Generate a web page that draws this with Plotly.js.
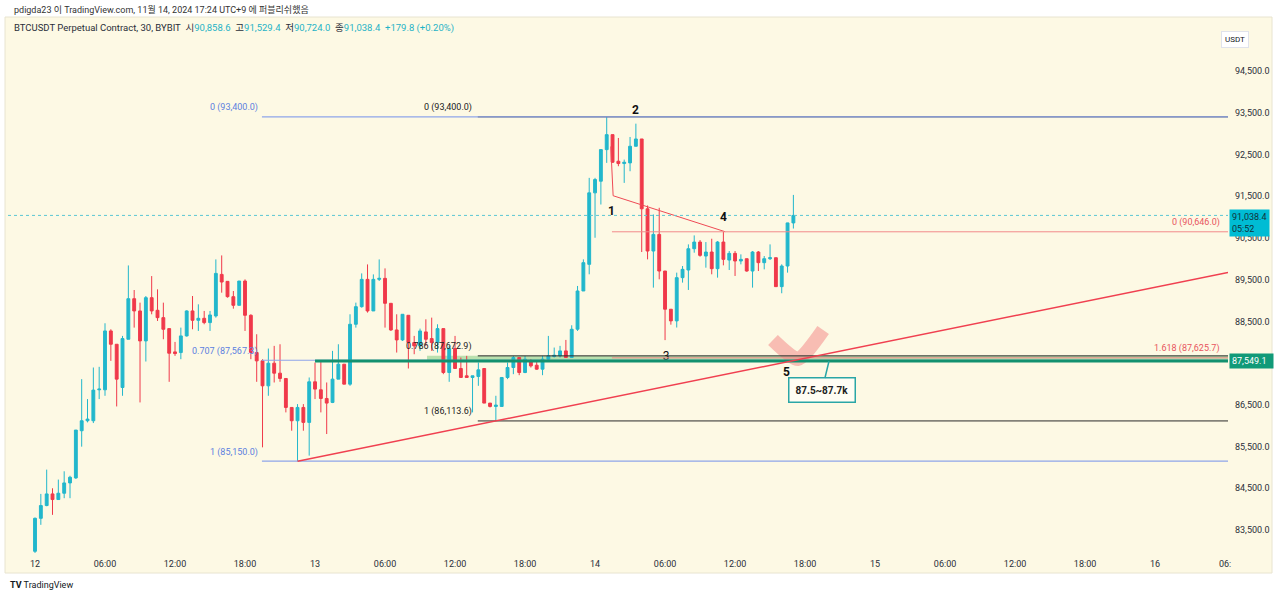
<!DOCTYPE html>
<html><head><meta charset="utf-8">
<script src="https://cdn.plot.ly/plotly-3.0.1.min.js"></script>
<style>html,body{margin:0;padding:0;background:#fff;} #chart{width:1280px;height:597px;}</style>
</head><body><div id="chart"></div>
<script>
// ---- candle data: BTCUSDT 30m, BYBIT, from 2024-11-12 00:00 (UTC+9) ----
const startTime = [2024, 10, 12, 0, 0];   // year, month(0-based), day, hour, minute
const barMinutes = 30;
const openP = [82990,83780,84086,84365,84230,84381,84628,84748,85879,86118,
  86118,86860,86860,88270,87951,86915,88071,89043,88749,88031,
  89067,88765,88589,88326,87768,87752,88151,88749,88525,88573,
  88470,88629,89625,89458,89091,88884,89466,88645,87752,87553,
  86955,87497,87258,87131,86437,86118,86437,86079,87051,86860,
  86652,86557,87115,87473,86995,88430,88852,89506,88749,89506,
  89530,88932,88294,88055,88645,87991,87912,88247,88087,87991,
  88326,87274,87848,87370,87195,87155,87179,87370,86541,86461,
  86461,87155,87394,87633,87274,87529,87449,87354,87593,87657,
  87673,87792,87633,88312,89228,89866,91579,91858,92615,92974,
  92337,92281,92297,92695,92870,91197,90185,90583,89706,88790,
  88511,89547,89730,90240,90400,90065,90161,89762,90400,89969,
  90129,89946,90001,89706,90161,89906,90001,90025,89332,89826,
  90858.6];
const highP = [83800,84365,84947,84500,84708,84907,84800,85895,87115,86637,
  87394,87410,88454,88310,87951,88151,89840,89251,88948,89107,
  89585,89267,88948,88326,88007,88350,88765,89107,88908,88749,
  88749,89984,90080,89458,89227,89466,89506,88669,88191,87593,
  87848,87912,87951,87131,86437,86517,86517,87155,87513,87553,
  87035,87792,87951,87473,88669,88948,89649,89864,89625,89984,
  89769,88932,88669,88669,88645,88151,88326,88549,88589,88430,
  88326,87912,88151,87633,87673,87195,87513,87370,86541,86716,
  87155,87513,87673,87633,87673,87593,87553,87673,88151,87872,
  87912,88055,88406,89348,89985,91938,91938,92615,93400,92974,
  92894,92376,92918,93237,92870,91277,91061,91221,89706,88790,
  89667,89826,90344,90559,90448,90400,90480,90424,90646,90185,
  90185,90105,90001,90185,90185,90065,90344,90025,89866,90862,
  91529.4];
const lowP = [82950,83624,84070,83863,84230,84262,84262,84724,85497,86079,
  86063,86637,86716,87553,86461,86716,88071,88350,86557,87537,
  88669,88509,88071,87051,87673,87593,88135,88310,88270,88430,
  88270,88589,89187,89067,88804,88884,88270,87593,87051,85481,
  86716,87035,87051,86318,85879,85150,85879,85282,86637,86318,
  85800,86541,87115,86995,86955,88350,88828,88709,88749,89466,
  88350,88270,87752,88031,87370,87712,87792,87912,87792,87752,
  87234,87051,87370,87155,87155,86318,86955,86541,86437,86114,
  86461,87115,87234,87210,87258,87394,87338,87210,87553,87633,
  87633,87633,87633,88270,89228,89627,90503,91300,92297,92297,
  92217,91818,92097,92695,90161,89985,89308,89507,88050,88420,
  88352,89428,89252,90145,90049,89786,89627,89547,89842,89730,
  89587,89866,89690,89308,89706,89746,89970,89332,89173,89667,
  90724.0];
const closeP = [83780,84086,84365,84230,84381,84628,84764,85895,86118,86158,
  86852,86876,88270,87951,87115,88087,89043,88749,88031,89067,
  88749,88589,88310,87736,87728,88151,88749,88525,88573,88470,
  88653,89649,89442,89091,88884,89466,88645,87752,87553,86955,
  87497,87258,87131,86437,86118,86437,86079,87051,86876,86652,
  86541,87115,87473,86995,88430,88852,89506,88749,89506,89530,
  88932,88294,88055,88669,87991,87912,88270,88071,87991,88326,
  87274,87848,87370,87155,87155,87195,87338,86541,86461,86493,
  87155,87394,87633,87274,87593,87433,87354,87593,87673,87689,
  87792,87633,88310,89228,89906,91579,91898,92615,92974,92313,
  92281,92313,92695,92870,91197,90185,90583,89706,88790,88511,
  89547,89746,90240,90400,90081,90161,89762,90400,89985,90129,
  89946,89985,89706,90161,89906,90001,90025,89332,89826,90858.6,
  91038.4];

// ---- axis labels (87,500.0 is hidden behind the 87,549.1 price tag) ----
const xTickLabels = ['12','06:00','12:00','18:00','13','06:00','12:00','18:00','14',
  '06:00','12:00','18:00','15','06:00','12:00','18:00','16','06:'];
const yTickValues = [83500,84500,85500,86500,88500,89500,90500,91500,92500,93500,94500];

// ---- drawings (price levels / anchor bars) ----
const blueFibLevels = [93400, 87567.3, 85150];
const blueFibLabels = ['0 (93,400.0)', '0.707 (87,567.3)', '1 (85,150.0)'];
const blueFibStartBar = 38.9;
const blackFibLevels = [93400, 87672.9, 86113.6];
const blackFibLabels = ['0 (93,400.0)', '0.786 (87,672.9)', '1 (86,113.6)'];
const blackFibStartBar = 75.9;
const redFibLevels = [90646.0, 87625.7];
const redFibLabels = ['0 (90,646.0)', '1.618 (87,625.7)'];
const redFibStartBar = 98.9;
const supportLevel = 87549.1;
const supportStartBar = 48;
const zoneBand = [87549.1, 87672.9];
const zoneStartBar = 67.2;
const trendBars = [45, 79];
const trendPrices = [85150, 86113.6];
const waveBars = [98.7, 99.1, 118.3];
const wavePrices = [92690, 91510, 90648];
const waveLabels = ['1', '2', '3', '4', '5'];
const waveLabelBars = [98.9, 103.0, 108.2, 118.1, 128.9];
const waveLabelPrices = [91144, 93565, 87644, 91000, 87284];
const checkBars = [126.5, 130.8, 135.1];
const checkPrices = [88052, 87596, 88291];
const calloutBar = 136.1;
const calloutPrice = 87544;
const calloutText = '87.5~87.7k';
const lastPrice = 91038.4;
const countdown = '05:52';
const viewBars = [-4.63, 204.5];
const viewPrices = [82901, 95769];

const UP = '#22b7cc', DOWN = '#f0394a', CREAM = '#fdf9e4';
const FONT = 'Roboto, "Noto Sans CJK KR", sans-serif';

function tAt(idx) {
  const ms = Date.UTC(startTime[0], startTime[1], startTime[2], startTime[3], startTime[4]) + idx * barMinutes * 60000;
  return new Date(ms).toISOString().slice(0, 19).replace('T', ' ');
}
const times = openP.map((_, i) => tAt(i));
const xRight = tAt(viewBars[1]);
const fmt = v => v.toLocaleString('en-US', {minimumFractionDigits: 1, maximumFractionDigits: 1});

// pixel helpers for paper-placed page furniture
const L = 8, R = 52, T = 18, B = 42, W = 1280, H = 597;
const px = x => (x - L) / (W - L - R);
const py = y => (H - B - y) / (H - T - B);

const traces = [];
traces.push({
  type: 'candlestick', x: times, open: openP, high: highP, low: lowP, close: closeP,
  increasing: {line: {color: UP, width: 1}, fillcolor: UP},
  decreasing: {line: {color: DOWN, width: 1}, fillcolor: DOWN},
  whiskerwidth: 0, hoverinfo: 'skip', showlegend: false
});
traces.push({
  type: 'scatter', mode: 'lines', x: waveBars.map(tAt), y: wavePrices,
  line: {color: '#ef4a55', width: 1}, hoverinfo: 'skip', showlegend: false
});
traces.push({
  type: 'scatter', mode: 'text', x: [tAt(waveLabelBars[2])], y: [waveLabelPrices[2]],
  text: [waveLabels[2]], textfont: {family: FONT, size: 12, color: '#111'},
  hoverinfo: 'skip', showlegend: false
});
traces.push({
  type: 'scatter', mode: 'lines', x: checkBars.map(tAt), y: checkPrices,
  line: {color: 'rgba(243,130,130,0.5)', width: 14, shape: 'spline', smoothing: 0.6}, hoverinfo: 'skip', showlegend: false
});

const shapes = [];
// panel background
shapes.push({type: 'rect', xref: 'paper', yref: 'paper', x0: px(5), x1: px(1272), y0: py(573), y1: py(17),
  fillcolor: CREAM, line: {color: '#e8e4d0', width: 1}, layer: 'below'});
// zone band
shapes.push({type: 'rect', xref: 'x', yref: 'y', x0: tAt(zoneStartBar), x1: xRight, y0: zoneBand[0], y1: zoneBand[1],
  fillcolor: 'rgba(120,200,120,0.5)', line: {width: 0}, layer: 'below'});
// black fib
blackFibLevels.forEach(v => shapes.push({type: 'line', xref: 'x', yref: 'y', x0: tAt(blackFibStartBar), x1: xRight, y0: v, y1: v,
  line: {color: '#2a2a2a', width: 1}, layer: 'above'}));
// blue fib (drawn over the black one)
blueFibLevels.forEach(v => shapes.push({type: 'line', xref: 'x', yref: 'y', x0: tAt(blueFibStartBar), x1: xRight, y0: v, y1: v,
  line: {color: '#8ea5ea', width: 1.2}, layer: 'above'}));
// red fib extension
redFibLevels.forEach(v => shapes.push({type: 'line', xref: 'x', yref: 'y', x0: tAt(redFibStartBar), x1: xRight, y0: v, y1: v,
  line: {color: '#f28a8a', width: 1}, layer: 'above'}));
// support line
shapes.push({type: 'line', xref: 'x', yref: 'y', x0: tAt(supportStartBar), x1: xRight, y0: supportLevel, y1: supportLevel,
  line: {color: '#13916f', width: 3}, layer: 'above'});
// trend line
const slope = (trendPrices[1] - trendPrices[0]) / (trendBars[1] - trendBars[0]);
shapes.push({type: 'line', xref: 'x', yref: 'y', x0: tAt(trendBars[0]), y0: trendPrices[0],
  x1: xRight, y1: trendPrices[0] + slope * (viewBars[1] - trendBars[0]),
  line: {color: '#f04050', width: 1.5}, layer: 'above'});
// last price dotted
shapes.push({type: 'line', xref: 'paper', yref: 'y', x0: 0, x1: 1, y0: lastPrice, y1: lastPrice,
  line: {color: '#5cc6d4', width: 1, dash: 'dot'}, layer: 'above'});

const ann = [];
const lblFont = (c) => ({family: FONT, size: 9, color: c});
blueFibLevels.forEach((v, i) => ann.push({xref: 'x', yref: 'y', x: tAt(blueFibStartBar - 0.4), y: v, text: blueFibLabels[i],
  xanchor: 'right', yanchor: 'middle', yshift: 9, showarrow: false, font: lblFont('#5c7fe0')}));
blackFibLevels.forEach((v, i) => ann.push({xref: 'x', yref: 'y', x: tAt(blackFibStartBar - 0.6), y: v, text: blackFibLabels[i],
  xanchor: 'right', yanchor: 'middle', yshift: 9, showarrow: false, font: lblFont('#222')}));
redFibLevels.forEach((v, i) => ann.push({xref: 'paper', yref: 'y', x: px(1222), y: v, text: redFibLabels[i],
  xanchor: 'right', yanchor: 'middle', yshift: 9, showarrow: false, font: lblFont('#e8555e')}));
[0, 1, 3, 4].forEach(i => ann.push({xref: 'x', yref: 'y', x: tAt(waveLabelBars[i]), y: waveLabelPrices[i], text: '<b>' + waveLabels[i] + '</b>',
  showarrow: false, font: {family: FONT, size: 12, color: '#111'}}));
// callout
ann.push({xref: 'x', yref: 'y', x: tAt(calloutBar), y: calloutPrice, text: '<b>' + calloutText + '</b>',
  showarrow: true, arrowhead: 0, arrowwidth: 1.5, arrowcolor: '#2aa6a6', ax: -7, ay: 29,
  bgcolor: '#fffdf3', bordercolor: '#2aa6a6', borderwidth: 1.5, borderpad: 6,
  font: {family: FONT, size: 10, color: '#222'}});
// price axis labels
ann.push({xref: 'paper', yref: 'y', x: px(1229), y: lastPrice, xanchor: 'left', yanchor: 'top', yshift: 6,
  text: fmt(lastPrice) + '<br>' + countdown, align: 'left', showarrow: false, bgcolor: '#00bcd4',
  borderpad: 2, font: {family: FONT, size: 9, color: '#10323a'}});
ann.push({xref: 'paper', yref: 'y', x: px(1229), y: supportLevel, xanchor: 'left', yanchor: 'middle',
  text: fmt(supportLevel) + '\u00a0\u00a0', align: 'left', showarrow: false, bgcolor: '#119a78',
  borderpad: 2, font: {family: FONT, size: 9, color: '#ffffff'}});
ann.push({xref: 'paper', yref: 'paper', x: px(1249), y: py(31), text: 'USDT', showarrow: false,
  bgcolor: '#ffffff', bordercolor: '#e0e3eb', borderwidth: 1, borderpad: 3, font: {family: FONT, size: 8, color: '#131722'}});
// header
const tc = s => '<span style="color:#1fb3c6">' + s + '</span>';
const sp = '\u00a0\u00a0';
ann.push({xref: 'paper', yref: 'paper', x: px(12), y: py(28), xanchor: 'left', yanchor: 'middle', showarrow: false,
  text: 'BTCUSDT Perpetual Contract, 30, BYBIT' + sp + '시' + tc(fmt(openP[openP.length - 1])) + sp + '고' + tc(fmt(highP[highP.length - 1])) +
    sp + '저' + tc(fmt(lowP[lowP.length - 1])) + sp + '종' + tc(fmt(closeP[closeP.length - 1])) + sp +
    tc('+' + fmt(closeP[closeP.length - 1] - openP[openP.length - 1]) + ' (+0.20%)'),
  font: {family: FONT, size: 9.5, color: '#2a2e39'}});
ann.push({xref: 'paper', yref: 'paper', x: px(12), y: py(9), xanchor: 'left', yanchor: 'middle', showarrow: false,
  text: 'pdigda23 이 TradingView.com, 11월 14, 2024 17:24 UTC+9 에 퍼블리쉬했음', font: {family: FONT, size: 9, color: '#333'}});
ann.push({xref: 'paper', yref: 'paper', x: px(8), y: py(585), xanchor: 'left', yanchor: 'middle', showarrow: false,
  text: '<b>TV</b> TradingView', font: {family: FONT, size: 9, color: '#131722'}});

const layout = {
  width: W, height: H, margin: {l: L, r: R, t: T, b: B, pad: 0},
  paper_bgcolor: '#ffffff', plot_bgcolor: CREAM, showlegend: false,
  xaxis: {type: 'date', range: [tAt(viewBars[0]), xRight], rangeslider: {visible: false},
    tickvals: xTickLabels.map((_, i) => tAt(i * 12)), ticktext: xTickLabels,
    showgrid: false, zeroline: false, showline: false, ticks: '', ticklabelstandoff: 2,
    tickfont: {family: FONT, size: 9, color: '#2a2e39'}, fixedrange: true},
  yaxis: {side: 'right', range: viewPrices, tickvals: yTickValues, ticktext: yTickValues.map(fmt),
    showgrid: false, zeroline: false, showline: false, ticks: '', ticklabelstandoff: 6,
    tickfont: {family: FONT, size: 9, color: '#2a2e39'}, fixedrange: true},
  shapes: shapes, annotations: ann, hovermode: false
};
Plotly.newPlot('chart', traces, layout, {displayModeBar: false, staticPlot: true});
</script></body></html>
